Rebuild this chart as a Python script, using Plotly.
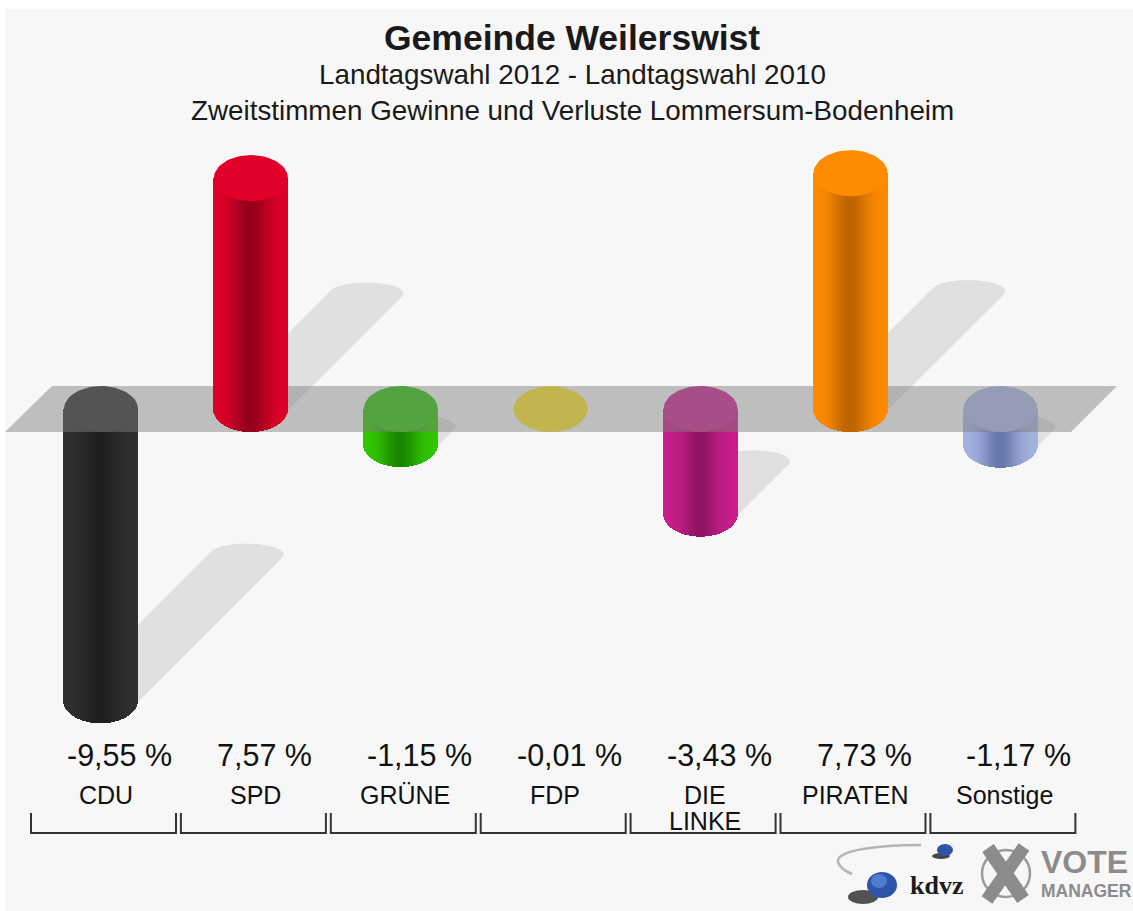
import math
import plotly.graph_objects as go

# ---- data ----
CATEGORIES = ["CDU", "SPD", "GRÜNE", "FDP", "DIE<br>LINKE", "PIRATEN", "Sonstige"]
VALUES = [-9.55, 7.57, -1.15, -0.01, -3.43, 7.73, -1.17]
EDGE_COLORS = [(48, 48, 48), (222, 0, 40), (50, 200, 0), (255, 230, 40), (203, 30, 140), (255, 140, 0), (165, 180, 225)]
DARK_COLORS = [(30, 30, 30), (150, 0, 28), (25, 135, 0), (190, 170, 20), (145, 20, 100), (190, 100, 0), (105, 120, 170)]
CAP_COLORS = [(48, 48, 48), (225, 0, 40), (50, 195, 10), (255, 230, 40), (205, 35, 145), (255, 140, 0), (172, 182, 232)]

# ---- canvas geometry ----
W, H = 1133, 911
X0_PX, DX_PX = 101, 149.9      # first category centre, category spacing
Y0_PX, PX_PER_UNIT = 409, 30.5  # zero line, pixels per percentage point
BAR_RX, BAR_RY = 37, 23         # ellipse of the cylinder end


def px_x(p):
    return (p - X0_PX) / DX_PX


def px_y(p):
    return (Y0_PX - p) / PX_PER_UNIT


def pap_x(p):
    return p / W


def pap_y(p):
    return 1 - p / H


def rgb(c, a=None):
    c = tuple(int(round(v)) for v in c)
    return f"rgb{c}" if a is None else f"rgba({c[0]},{c[1]},{c[2]},{a})"


def ellipse_pts(cx, cy, rx, ry, n=72):
    xs, ys = [], []
    for k in range(n + 1):
        a = 2 * math.pi * k / n
        xs.append(cx + rx * math.cos(a))
        ys.append(cy + ry * math.sin(a))
    return xs, ys


def hull(points):
    pts = sorted(set(points))

    def half(seq):
        out = []
        for p in seq:
            while len(out) > 1 and ((out[-1][0] - out[-2][0]) * (p[1] - out[-2][1])
                                    - (out[-1][1] - out[-2][1]) * (p[0] - out[-2][0])) <= 0:
                out.pop()
            out.append(p)
        return out
    lo = half(pts)
    up = half(pts[::-1])
    return lo[:-1] + up[:-1]


fig = go.Figure()
shapes = []
annotations = []

# page background
shapes.append(dict(type="rect", xref="paper", yref="paper", x0=pap_x(5), x1=1, y0=0, y1=pap_y(9),
                   fillcolor="#f7f7f7", line_width=0, layer="below"))

# shadows: a flat ellipse swept up and to the right, half the bar length each way
rx_u = BAR_RX / DX_PX
SH_RY = 11 / PX_PER_UNIT
for i, v in enumerate(VALUES):
    if abs(v) < 0.05:
        continue
    s_y = 0 if v > 0 else v
    L_px = abs(v) * PX_PER_UNIT
    ex = i + 0.5 * L_px / DX_PX
    ey = s_y + 0.5 * abs(v)
    pts = []
    for cx, cy in ((i, s_y), (ex, ey)):
        xs, ys = ellipse_pts(cx, cy, rx_u, SH_RY, 48)
        pts += list(zip(xs, ys))
    h = hull(pts)
    path = "M" + " L".join(f"{a:.4f},{b:.4f}" for a, b in h) + " Z"
    shapes.append(dict(type="path", xref="x", yref="y", path=path, fillcolor="#e0e0e0",
                       line_width=0, layer="below"))


# cylinders as narrow vertical strips shaded across their width
STRIP_PX = 1
def bar_trace(i, v, xa, ya):
    xs, tops, bases, cols = [], [], [], []
    n = int(2 * BAR_RX / STRIP_PX)
    for k in range(n):
        off = -BAR_RX + (k + 0.5) * STRIP_PX
        t = off / BAR_RX
        dy = BAR_RY * math.sqrt(max(0, 1 - t * t)) / PX_PER_UNIT
        m = math.exp(-(t / 0.5) ** 2)
        col = [e + (d - e) * m for e, d in zip(EDGE_COLORS[i], DARK_COLORS[i])]
        xs.append(i + off / DX_PX)
        if v >= 0:
            bases.append(-dy)
            tops.append(v + dy)
        else:
            bases.append(0)
            tops.append(v - dy)
        cols.append(rgb(col))
    return go.Bar(x=xs, y=tops, base=bases, width=(STRIP_PX + 0.4) / DX_PX, marker=dict(color=cols, line_width=0),
                  xaxis=xa, yaxis=ya, showlegend=False, hoverinfo="skip")


def cap_trace(i, v, xa, ya):
    xs, ys = ellipse_pts(i, v if v >= 0 else 0, BAR_RX / DX_PX, BAR_RY / PX_PER_UNIT)
    return go.Scatter(x=xs, y=ys, mode="lines", fill="toself", fillcolor=rgb(CAP_COLORS[i]),
                      line=dict(width=0, color=rgb(CAP_COLORS[i])), xaxis=xa, yaxis=ya,
                      showlegend=False, hoverinfo="skip")


# falling bars sit behind the translucent plane
for i, v in enumerate(VALUES):
    if v < 0:
        if v < -0.05:
            fig.add_trace(bar_trace(i, v, "x", "y"))
        fig.add_trace(cap_trace(i, v, "x", "y"))

# translucent plane
fig.add_trace(go.Scatter(
    x=[px_x(52), px_x(1117), px_x(1071), px_x(5), px_x(52)],
    y=[px_y(386), px_y(386), px_y(432), px_y(432), px_y(386)],
    mode="lines", fill="toself", fillcolor="rgba(125,125,125,0.47)",
    line=dict(width=0), showlegend=False, hoverinfo="skip"))

# rising bars stand in front of it
for i, v in enumerate(VALUES):
    if v >= 0:
        fig.add_trace(bar_trace(i, v, "x2", "y2"))
        fig.add_trace(cap_trace(i, v, "x2", "y2"))

# titles
FONT = "Liberation Sans"
for txt, y, size in (("<b>Gemeinde Weilerswist</b>", 38, 35.5),
                     ("Landtagswahl 2012 - Landtagswahl 2010", 75, 27.8),
                     ("Zweitstimmen Gewinne und Verluste Lommersum-Bodenheim", 110, 27.8)):
    annotations.append(dict(text=txt, xref="paper", yref="paper", x=pap_x(572), y=pap_y(y), showarrow=False,
                            xanchor="center", yanchor="middle", font=dict(family=FONT, size=size, color="#1a1a1a")))

# value labels, category labels and brackets
for i, (cat, v) in enumerate(zip(CATEGORIES, VALUES)):
    label = f"{v:.2f}".replace(".", ",") + " %"
    annotations.append(dict(text=label, xref="x", yref="paper", x=i - 36 / DX_PX, y=pap_y(755), showarrow=False,
                            xanchor="left", yanchor="middle", font=dict(family=FONT, size=30.5, color="#111111")))
    for k, part in enumerate(cat.split("<br>")):
        annotations.append(dict(text=part, xref="x", yref="paper", x=i + 4.5 / DX_PX, y=pap_y(795 + 26 * k),
                                showarrow=False, xanchor="center", yanchor="middle",
                                font=dict(family=FONT, size=25, color="#111111")))
    a, b = i - 70 / DX_PX, i + 75 / DX_PX
    y_t, y_b = pap_y(813), pap_y(833)
    shapes.append(dict(type="path", xref="x", yref="paper",
                       path=f"M{a:.4f},{y_t:.4f} L{a:.4f},{y_b:.4f} L{b:.4f},{y_b:.4f} L{b:.4f},{y_t:.4f}",
                       line=dict(color="#333333", width=2), layer="above"))

# logo
def logo_ell(cx, cy, rx, ry, col):
    shapes.append(dict(type="circle", xref="paper", yref="paper", x0=pap_x(cx - rx), x1=pap_x(cx + rx),
                       y0=pap_y(cy - ry), y1=pap_y(cy + ry), fillcolor=col, line_width=0, layer="above"))


shapes.append(dict(type="path", xref="paper", yref="paper",
                   path=(f"M{pap_x(921):.4f},{pap_y(845):.4f} C{pap_x(880):.4f},{pap_y(845):.4f} "
                         f"{pap_x(835):.4f},{pap_y(850):.4f} {pap_x(838):.4f},{pap_y(862):.4f} "
                         f"C{pap_x(840):.4f},{pap_y(868):.4f} {pap_x(847):.4f},{pap_y(872):.4f} {pap_x(852):.4f},{pap_y(874):.4f}"),
                   line=dict(color="#b5b5b5", width=2.5), layer="above"))
logo_ell(863, 897, 15, 7, "rgba(40,40,40,0.8)")
logo_ell(882, 885, 15, 13, "#2f55a8")
logo_ell(879, 881, 8, 7, "#4f7bd0")
logo_ell(941, 856, 9, 3, "rgba(40,40,40,0.85)")
logo_ell(945, 850, 8, 6, "#2f55a8")
annotations.append(dict(text="<b>kdvz</b>", xref="paper", yref="paper", x=pap_x(937), y=pap_y(885), showarrow=False,
                        xanchor="center", yanchor="middle", font=dict(family="Liberation Serif", size=26, color="#1c1c1c")))
shapes.append(dict(type="circle", xref="paper", yref="paper", x0=pap_x(982), x1=pap_x(1030), y0=pap_y(850), y1=pap_y(897),
                   line=dict(color="#9a9a9a", width=2.5), layer="above"))
shapes.append(dict(type="line", xref="paper", yref="paper", x0=pap_x(988), y0=pap_y(848), x1=pap_x(1023), y1=pap_y(899),
                   line=dict(color="#8c8c8c", width=14), layer="above"))
shapes.append(dict(type="line", xref="paper", yref="paper", x0=pap_x(1024), y0=pap_y(847), x1=pap_x(987), y1=pap_y(900),
                   line=dict(color="#8c8c8c", width=13), layer="above"))
annotations.append(dict(text="<b>VOTE</b>", xref="paper", yref="paper", x=pap_x(1039), y=pap_y(862), showarrow=False,
                        xanchor="left", yanchor="middle", font=dict(family=FONT, size=32, color="#8c8c8c")))
annotations.append(dict(text="<b>MANAGER</b>", xref="paper", yref="paper", x=pap_x(1039), y=pap_y(891), showarrow=False,
                        xanchor="left", yanchor="middle", font=dict(family=FONT, size=17.5, color="#8c8c8c")))

x_range = [px_x(0), px_x(W)]
y_range = [px_y(H), px_y(0)]
hidden = dict(visible=False, showgrid=False, zeroline=False, fixedrange=True)
fig.update_layout(
    width=W, height=H, autosize=False,
    margin=dict(l=0, r=0, t=0, b=0, pad=0),
    paper_bgcolor="white", plot_bgcolor="rgba(0,0,0,0)",
    barmode="overlay", bargap=0, showlegend=False,
    xaxis=dict(range=x_range, domain=[0, 1], **hidden),
    yaxis=dict(range=y_range, domain=[0, 1], **hidden),
    xaxis2=dict(range=x_range, overlaying="x", **hidden),
    yaxis2=dict(range=y_range, overlaying="y", **hidden),
    shapes=shapes, annotations=annotations,
)

fig.write_html("out.html", post_script="document.body.style.margin='0';document.body.style.overflow='hidden';",
               config={"displayModeBar": False})
